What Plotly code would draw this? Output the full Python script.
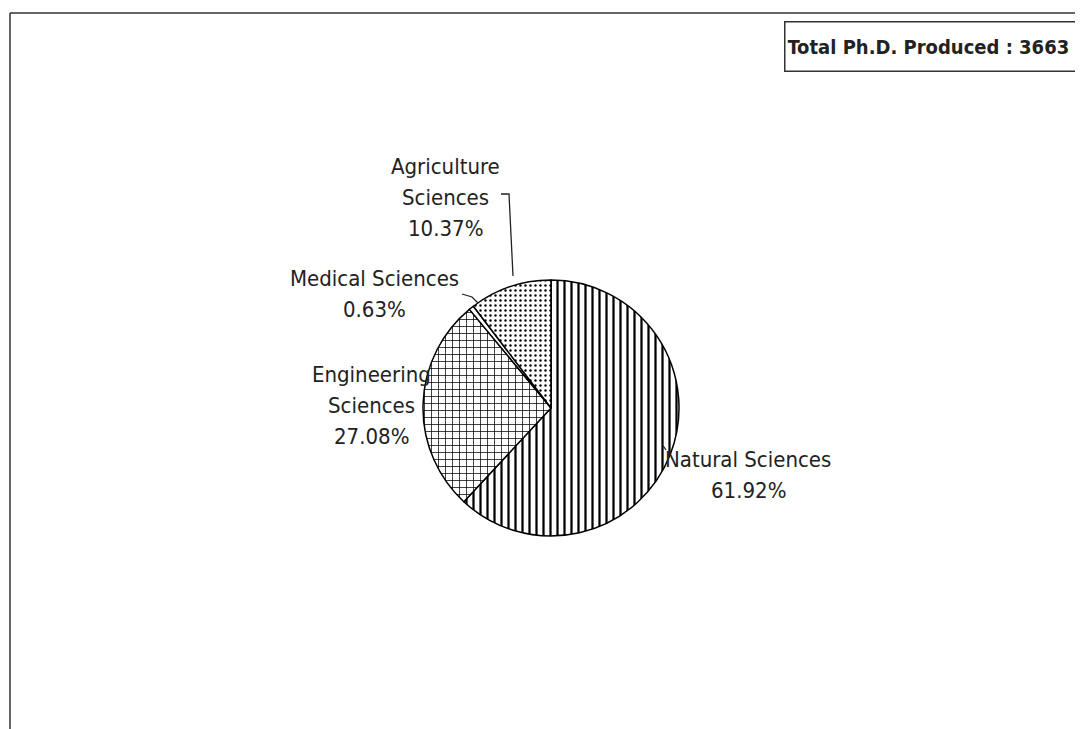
import plotly.graph_objects as go

# Ph.D. output by field (share of total, %)
fields = ['Natural Sciences', 'Engineering Sciences', 'Medical Sciences', 'Agriculture Sciences']
shares = [61.92, 27.08, 0.63, 10.37]
patterns = ['|', '+', '', '.']
total_phd = 3663

W, H = 1083, 729
OFF = 8  # page body margin
FONT = 'DejaVu Sans Condensed, Liberation Sans Narrow, sans-serif'
INK = '#222222'


def px(x, y):
    # screen pixel position -> paper coordinates
    return (x - OFF) / W, 1 - (y - OFF) / H


cx, cy, r = 551, 408, 128
dx0, _ = px(cx - r, 0)
dx1, _ = px(cx + r, 0)
_, dy0 = px(0, cy + r)
_, dy1 = px(0, cy - r)

fig = go.Figure()
fig.add_trace(go.Pie(
    labels=fields, values=shares,
    sort=False, direction='clockwise', rotation=0,
    textinfo='none', hoverinfo='label+percent', showlegend=False,
    domain=dict(x=[dx0, dx1], y=[dy0, dy1]),
    marker=dict(
        colors=['white'] * len(fields),
        line=dict(color='black', width=1.5),
        pattern=dict(shape=patterns, fgcolor='black', bgcolor='white',
                     size=[7, 7, 6, 5], solidity=[0.32, 0.2, 0.2, 0.18]),
    ),
))

# label placement: centre x and y of the first text line
label_pos = {
    'Natural Sciences': (748, 459),
    'Engineering Sciences': (371, 374),
    'Medical Sciences': (374, 278),
    'Agriculture Sciences': (445, 166),
}
wrapped = {'Engineering Sciences', 'Agriculture Sciences'}
LINE = 31

annotations = []
for name, pct in zip(fields, shares):
    lines = name.split(' ') if name in wrapped else [name]
    lines.append(f'{pct:.2f}%')
    x0, y0 = label_pos[name]
    for i, t in enumerate(lines):
        x, y = px(x0, y0 + i * LINE)
        annotations.append(dict(
            x=x, y=y, xref='paper', yref='paper', showarrow=False,
            text=t, xanchor='center', yanchor='middle',
            font=dict(family=FONT, size=22, color=INK),
        ))

bx, by = px(784, 47)
annotations.append(dict(
    x=bx, y=by, xref='paper', yref='paper', showarrow=False,
    text=f'<b>Total Ph.D. Produced : {total_phd}</b>',
    xanchor='left', yanchor='middle', align='left', valign='middle',
    width=320, height=44,
    bordercolor='#333333', borderwidth=1.5, borderpad=2, bgcolor='white',
    font=dict(family=FONT, size=20, color=INK),
))


def path(points):
    pts = [px(x, y) for x, y in points]
    return 'M ' + ' L '.join(f'{a},{b}' for a, b in pts)


fx, fy = px(10, 13)
shapes = [
    # outer frame (top and left edges visible)
    dict(type='line', xref='paper', yref='paper',
         x0=fx, y0=fy, x1=1.02, y1=fy,
         line=dict(color='#333333', width=1.5)),
    dict(type='line', xref='paper', yref='paper',
         x0=fx, y0=fy, x1=fx, y1=-0.02,
         line=dict(color='#333333', width=1.5)),
    # leader lines
    dict(type='path', xref='paper', yref='paper',
         path=path([(501, 194), (509, 194), (513, 276)]),
         line=dict(color=INK, width=1.3)),
    dict(type='path', xref='paper', yref='paper',
         path=path([(462, 294), (472, 297), (478, 303)]),
         line=dict(color=INK, width=1.3)),
    dict(type='path', xref='paper', yref='paper',
         path=path([(662, 444), (666, 450)]),
         line=dict(color=INK, width=1.3)),
]

fig.update_layout(
    width=W, height=H,
    margin=dict(l=0, r=0, t=0, b=0),
    paper_bgcolor='white', plot_bgcolor='white',
    annotations=annotations, shapes=shapes,
)

fig.write_html('out.html')
